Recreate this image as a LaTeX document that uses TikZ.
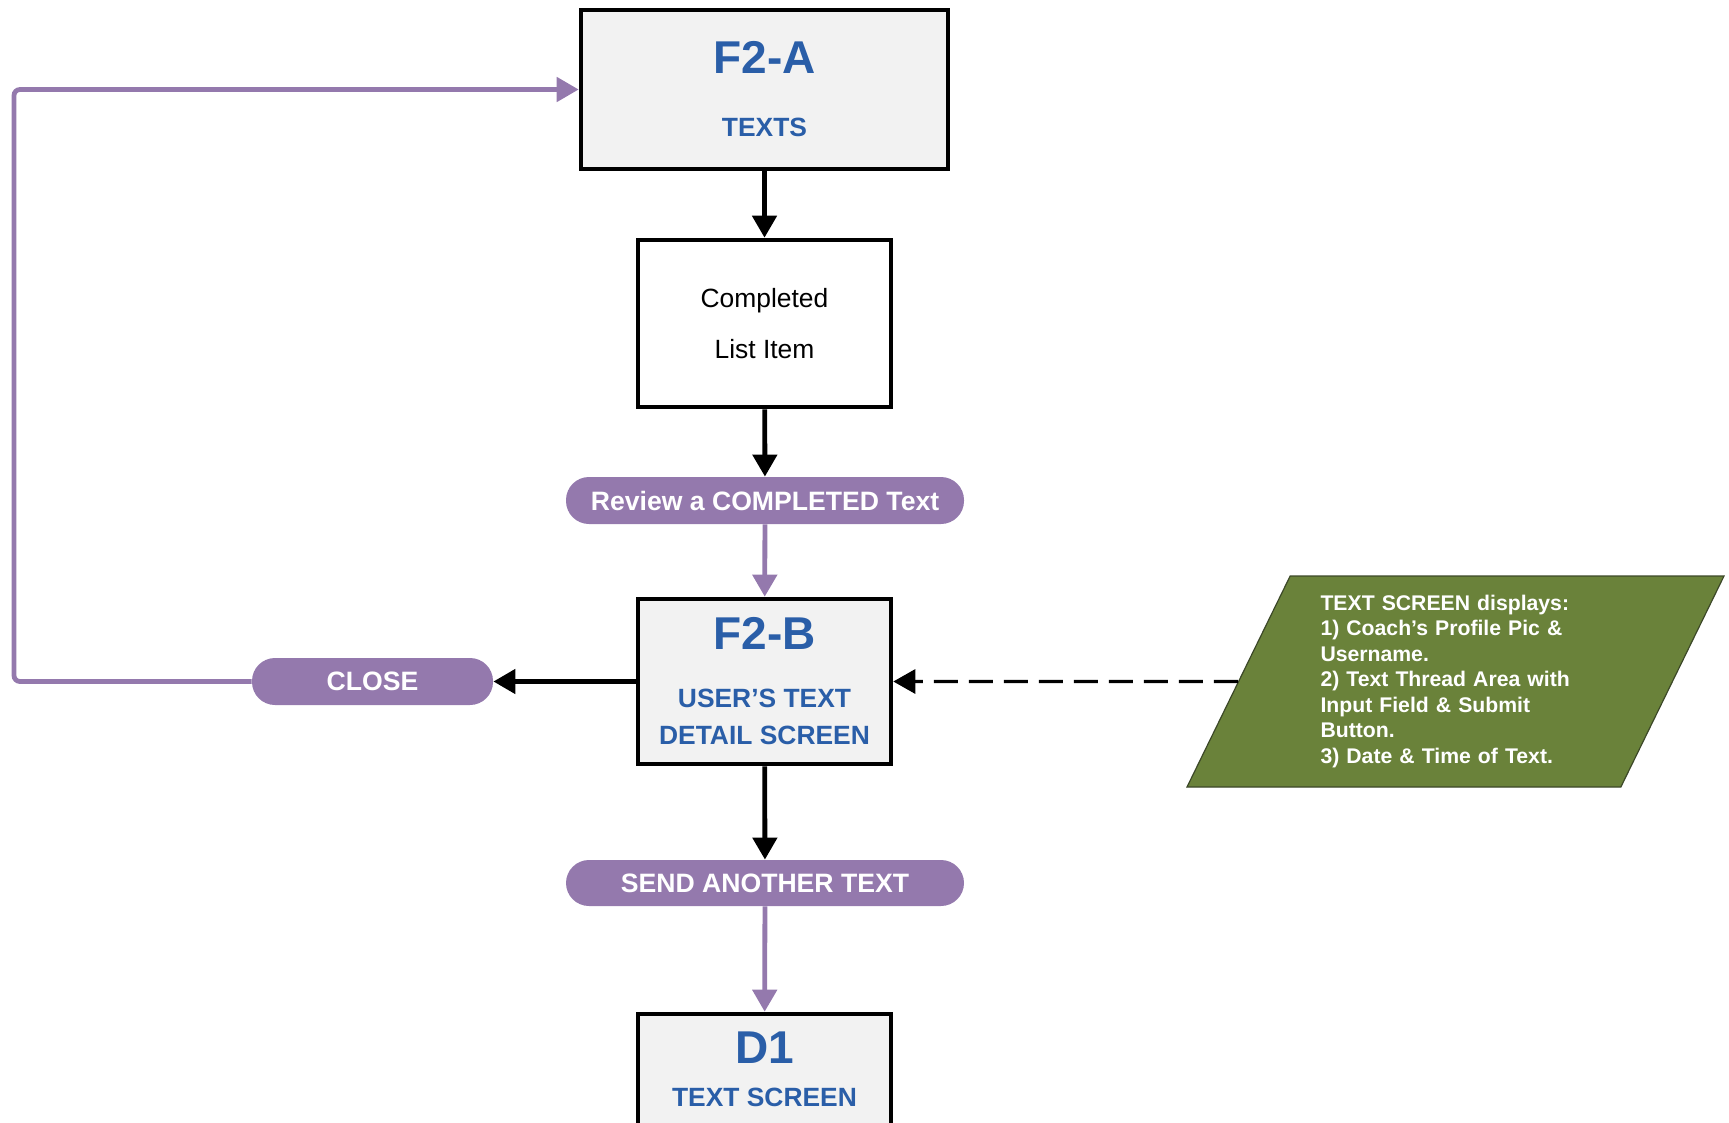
\documentclass[tikz,border=0pt]{standalone}
\usepackage{fontspec}
\setmainfont{Liberation Sans}
\usetikzlibrary{arrows.meta,shapes.geometric}

\definecolor{flowblue}{RGB}{42,94,168}
\definecolor{flowpurple}{RGB}{148,121,173}
\definecolor{boxgray}{RGB}{242,242,242}
\definecolor{notegreen}{RGB}{106,130,58}
\definecolor{noteedge}{RGB}{60,72,40}

\newcommand\scrtitle[1]{{\fontsize{23}{23}\selectfont #1}}

\tikzset{
	screen/.style={draw=black, line width=2.3pt, fill=boxgray, text=flowblue, align=center, font=\bfseries\fontsize{13.2}{18.5}\selectfont},
	listbox/.style={draw=black, line width=2.3pt, fill=white, align=center, font=\fontsize{13.2}{25.5}\selectfont},
	action/.style={fill=flowpurple, rounded corners=11.5pt, text=white, inner sep=0pt, font=\bfseries\fontsize{13.3}{16}\selectfont},
	note/.style={trapezium, trapezium left angle=61, trapezium right angle=119, trapezium stretches body, draw=noteedge, line width=0.6pt, fill=notegreen, text=white, align=left, text width=135pt, font=\bfseries\fontsize{10.6}{12.75}\selectfont},
	flow/.style={line width=2.4pt, -{Triangle[length=11pt,width=12pt]}},
	pflow/.style={flow, draw=flowpurple},
	dashflow/.style={flow, line width=1.6pt, dash pattern=on 12pt off 5.5pt}
}

\begin{document}
\begin{tikzpicture}[x=0.5pt, y=-0.5pt]

	\useasboundingbox (0,0) rectangle (1729,1123);
	\clip (0,0) rectangle (1729,1123);

	% screens
	\node[screen, minimum width=183.5pt, minimum height=79.5pt] (f2a) at (764.5,89.5) {\scrtitle{F2-A}\\[13pt]TEXTS};
	\node[listbox, minimum width=126.5pt, minimum height=83.5pt] (done) at (764.5,323.5) {Completed\\List Item};
	\node[screen, minimum width=126.5pt, minimum height=82.5pt] (f2b) at (764.5,681.5) {\scrtitle{F2-B}\\[10.5pt]USER’S TEXT\\DETAIL SCREEN};
	\node[screen, minimum width=126.5pt, minimum height=55.5pt] (d1) at (764.5,1069.5) {\scrtitle{D1}\\[3pt]TEXT SCREEN};

	% actions
	\node[action, minimum width=199pt, minimum height=23.5pt] (review) at (765,500.5) {Review a COMPLETED Text};
	\node[action, minimum width=120.5pt, minimum height=23.5pt] (close) at (372.5,681.5) {CLOSE};
	\node[action, minimum width=199pt, minimum height=23pt] (send) at (765,883) {SEND ANOTHER TEXT};

	\node[note, minimum width=268.5pt, minimum height=105.5pt] (info) at (1455.5,681.5) {TEXT SCREEN displays:\\1) Coach’s Profile Pic \&\\Username.\\2) Text Thread Area with\\Input Field \& Submit\\Button.\\3) Date \& Time of Text.};

	\coordinate (bend) at (14,89.5);

	% connectors
	\draw[flow] (f2a) -- (done);
	\draw[flow] (done) -- (review);
	\draw[pflow] (review) -- (f2b);
	\draw[flow] (f2b.west) -- (close.east);
	\draw[flow] (f2b) -- (send);
	\draw[pflow] (send) -- (d1);
	\draw[dashflow] (info.west) -- (f2b.east);
	\draw[pflow, rounded corners=3pt] (close.west) -| (bend) -- (f2a.west);

\end{tikzpicture}
\end{document}
